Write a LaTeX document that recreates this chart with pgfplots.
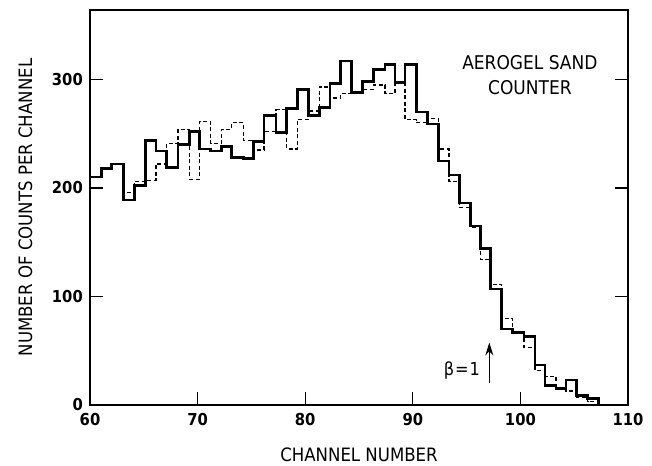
\documentclass[border=0pt]{standalone}
\usepackage{pgfplots}
\pgfplotsset{compat=1.18}
\usetikzlibrary{arrows.meta}
\usepackage{fontspec}
\setmainfont{DejaVu Sans Condensed}

% Bin edges (channel units) and counts; the last row closes the histogram.
\pgfplotstableread{
x       solid   dashed
60.00   210     210
61.05   218     218
61.98   222     222
63.13   189     196
64.15   202     206
65.14   244     207
66.13   234     222
67.13   219     241
68.18   240     254
69.27   252     208
70.16   236     261
71.22   234     241
72.24   238     254
73.17   228     260
74.25   227     244
75.18   243     235
76.17   267     252
77.29   251     272
78.28   273     236
79.27   291     263
80.29   267     271
81.31   274     293
82.30   296     283
83.30   317     287
84.32   288     289
85.34   298     291
86.33   309     295
87.42   314     287
88.35   297     297
89.28   314     263
90.36   270     260
91.35   259     264
92.37   225     236
93.36   212     206
94.32   186     182
95.38   165     164
96.31   144     134
97.24   107     111
98.26    70      80
99.28    67      66
100.33   63      53
101.36   37      32
102.29   18      26
103.31   15      15
104.24   23      13
105.23    9       7
106.24    6       3
107.24    0       0
}\counts

\begin{document}
\begin{tikzpicture}[x=1bp,y=1bp]
\useasboundingbox (0,0) rectangle (652,466);
\begin{axis}[
  at={(90bp,61bp)}, anchor=south west,
  scale only axis, width=538bp, height=395bp,
  xmin=60, xmax=110, ymin=0, ymax=364,
  xtick={60,70,...,110}, ytick={0,100,200,300},
  tick align=inside, major tick length=13bp,
  xtick pos=bottom, ytick pos=both,
  axis line style={line width=1.4bp},
  every tick/.style={line width=1.1bp, black},
  /pgf/number format/assume math mode=true,
  /pgf/number format/set thousands separator={},
  tick label style={font=\fontsize{16.5}{16.5}\selectfont\bfseries, inner sep=0pt},
  xticklabel style={yshift=-8bp},
  yticklabel style={xshift=-7bp},
  xlabel={CHANNEL NUMBER},
  ylabel={NUMBER OF COUNTS PER CHANNEL},
  label style={font=\fontsize{18.5}{18.5}\selectfont},
  xlabel style={at={(axis description cs:0.5,-0.127)}, anchor=center},
  ylabel style={at={(axis description cs:-0.12,0.5)}, anchor=center, rotate=0},
  clip=false,
]
\addplot[const plot, black, line width=1.3bp, dash pattern=on 4bp off 2.5bp]
  table[x=x, y=dashed] {\counts};
\addplot[const plot, black, line width=2.6bp, line join=miter]
  table[x=x, y=solid] {\counts};

\node[font=\fontsize{19}{24.7}\selectfont, align=center, anchor=center]
  at (axis cs:100.88,304) {AEROGEL SAND\\COUNTER};
\node[font=\fontsize{18}{18}\selectfont, anchor=east, inner sep=0pt]
  at (axis cs:96.25,32) {β\kern1bp=\kern1bp1};
\draw[-{Stealth[length=13bp,width=8bp]}, line width=1.4bp]
  (axis cs:97.11,20) -- (axis cs:97.11,57.6);
\end{axis}
\end{tikzpicture}
\end{document}
